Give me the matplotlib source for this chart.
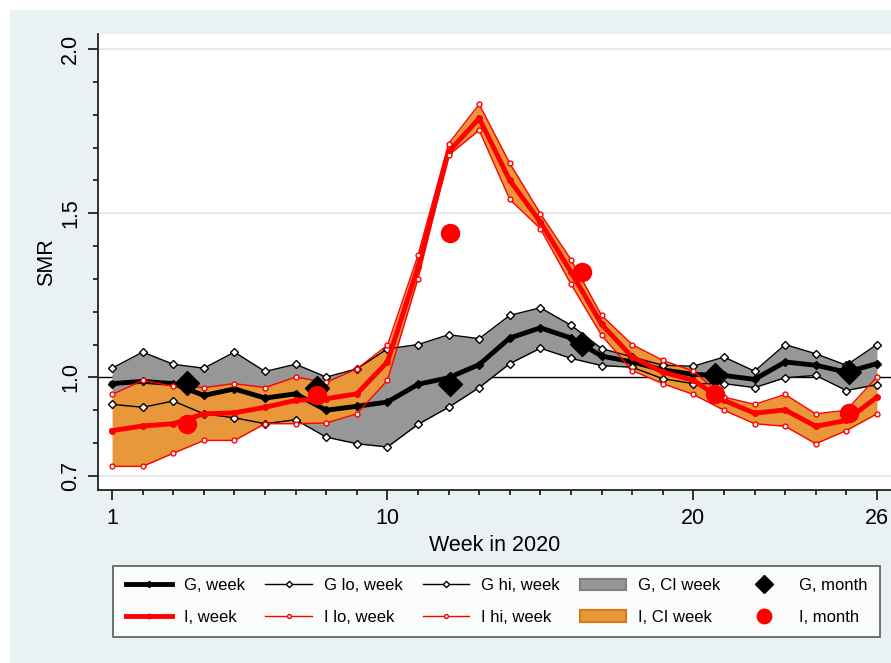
import matplotlib
matplotlib.use("Agg")
import matplotlib.pyplot as plt
from matplotlib.patches import Patch, Rectangle

plt.rcParams['font.family'] = ['Liberation Sans', 'DejaVu Sans']

# weekly SMR, 2020
weeks = list(range(1, 27))
g_week = [0.981, 0.988, 0.981, 0.945, 0.965, 0.937, 0.950, 0.900, 0.912, 0.925,
          0.979, 0.999, 1.039, 1.120, 1.151, 1.120, 1.065, 1.047, 1.023, 1.009,
          1.006, 0.994, 1.047, 1.037, 1.016, 1.042]
g_lo = [0.918, 0.909, 0.928, 0.889, 0.877, 0.859, 0.871, 0.818, 0.798, 0.788,
        0.857, 0.909, 0.969, 1.042, 1.089, 1.058, 1.036, 1.031, 0.996, 0.981,
        0.981, 0.969, 0.999, 1.006, 0.960, 0.978]
g_hi = [1.028, 1.077, 1.040, 1.028, 1.077, 1.018, 1.040, 1.001, 1.026, 1.087,
        1.100, 1.130, 1.118, 1.189, 1.212, 1.159, 1.088, 1.062, 1.037, 1.034,
        1.062, 1.019, 1.100, 1.072, 1.037, 1.100]
i_week = [0.838, 0.852, 0.859, 0.889, 0.892, 0.909, 0.930, 0.935, 0.950, 1.047,
          1.336, 1.687, 1.789, 1.600, 1.473, 1.321, 1.162, 1.062, 1.016, 0.991,
          0.930, 0.891, 0.901, 0.851, 0.869, 0.940]
i_lo = [0.729, 0.729, 0.769, 0.808, 0.808, 0.859, 0.859, 0.861, 0.889, 0.991,
        1.301, 1.677, 1.753, 1.542, 1.453, 1.284, 1.128, 1.021, 0.981, 0.948,
        0.900, 0.859, 0.851, 0.798, 0.838, 0.889]
i_hi = [0.948, 0.991, 0.973, 0.969, 0.981, 0.969, 1.001, 0.985, 1.026, 1.098,
        1.372, 1.712, 1.832, 1.652, 1.499, 1.359, 1.189, 1.100, 1.052, 1.019,
        0.940, 0.918, 0.948, 0.889, 0.900, 1.001]

# monthly SMR, placed at mid-month (in weeks)
month_wk = [3.44, 7.7, 12.04, 16.36, 20.7, 25.08]
g_month = [0.984, 0.969, 0.981, 1.103, 1.006, 1.016]
i_month = [0.859, 0.946, 1.440, 1.321, 0.948, 0.891]

W, H = 891, 663
fig = plt.figure(figsize=(W/100, H/100), dpi=100, facecolor='white')
fig.patches.append(Rectangle((10/W, 0), 1, 1 - 10/H, transform=fig.transFigure,
                             facecolor='#e9f1f3', edgecolor='none', zorder=-10))
ax = fig.add_axes([98/W, 1 - 490/H, 1 - 98/W, (490 - 34)/H])
ax.set_facecolor('white')

ax.set_xlim(0.54, 26.46)
ax.set_ylim(0.657, 2.046)

for yv in [0.7, 1.5, 2.0]:
    ax.axhline(yv, color='#dde9ec', lw=1.2, zorder=0)
ax.axhline(1.0, color='black', lw=1.0, zorder=1)

ax.fill_between(weeks, g_lo, g_hi, color='#979797', lw=0, zorder=2)
ax.fill_between(weeks, i_lo, i_hi, color='#e8983a', lw=0, zorder=3)

l_gw, = ax.plot(weeks, g_week, color='black', lw=3.5, marker='D', ms=4, zorder=5)
l_glo, = ax.plot(weeks, g_lo, color='black', lw=1, marker='D', ms=4,
                 mfc='white', mec='black', mew=1, zorder=5)
l_ghi, = ax.plot(weeks, g_hi, color='black', lw=1, marker='D', ms=4,
                 mfc='white', mec='black', mew=1, zorder=5)
l_iw, = ax.plot(weeks, i_week, color='red', lw=3.5, marker='o', ms=4, zorder=6)
l_ilo, = ax.plot(weeks, i_lo, color='red', lw=1, marker='o', ms=3.5,
                 mfc='white', mec='red', mew=1, zorder=6)
l_ihi, = ax.plot(weeks, i_hi, color='red', lw=1, marker='o', ms=3.5,
                 mfc='white', mec='red', mew=1, zorder=6)
l_gm, = ax.plot(month_wk, g_month, ls='none', marker='D', ms=12, color='black', zorder=7)
l_im, = ax.plot(month_wk, i_month, ls='none', marker='o', ms=13, color='red', zorder=8)

for side in ['top', 'right']:
    ax.spines[side].set_visible(False)
for side in ['left', 'bottom']:
    ax.spines[side].set_color('#222222')
    ax.spines[side].set_linewidth(1.3)

ax.set_xticks([1, 10, 20, 26])
ax.set_xticks(weeks, minor=True)
ax.set_yticks([0.7, 1.0, 1.5, 2.0])
ax.set_yticks([0.7 + 0.1*k for k in range(14)], minor=True)
ax.set_yticklabels(['0.7', '1.0', '1.5', '2.0'], rotation=90, va='center')
ax.tick_params(axis='both', which='major', length=7, width=1.3, labelsize=15.5,
               color='#222222')
ax.tick_params(axis='both', which='minor', length=3.5, width=1.3, color='#222222')
ax.tick_params(axis='x', pad=6)
ax.tick_params(axis='y', pad=5)

ax.set_xlabel('Week in 2020', fontsize=15.5, labelpad=4)
ax.set_ylabel('SMR', fontsize=15.5, labelpad=2)

handles = [l_gw, l_glo, l_ghi,
           Patch(facecolor='#979797', edgecolor='#808080', lw=1.5), l_gm,
           l_iw, l_ilo, l_ihi,
           Patch(facecolor='#e8983a', edgecolor='#e07810', lw=1.5), l_im]
labels = ['G, week', 'G lo, week', 'G hi, week', 'G, CI week', 'G, month',
          'I, week', 'I lo, week', 'I hi, week', 'I, CI week', 'I, month']
# matplotlib fills legend column-wise, so reorder for row-wise display
order = [0, 5, 1, 6, 2, 7, 3, 8, 4, 9]
leg = fig.legend([handles[k] for k in order], [labels[k] for k in order],
                 ncol=5, loc='center', mode='expand',
                 bbox_to_anchor=(105/W, 1 - 638/H, 783/W, 73/H),
                 fontsize=12, frameon=True, fancybox=False,
                 edgecolor='#333333', handlelength=2.8, handletextpad=0.7,
                 borderpad=0.75, labelspacing=1.0, markerscale=0.8)
leg.get_frame().set_linewidth(1.2)

fig.savefig('out.png', dpi=100, facecolor=fig.get_facecolor())
